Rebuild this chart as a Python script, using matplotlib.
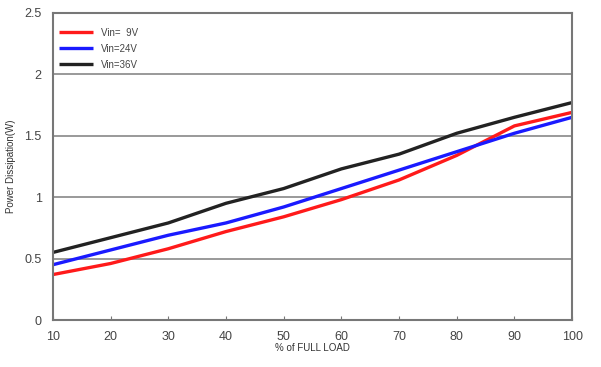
import matplotlib
matplotlib.use("Agg")
import matplotlib.pyplot as plt

load = [10, 20, 30, 40, 50, 60, 70, 80, 90, 100]
vin9 = [0.37, 0.46, 0.58, 0.72, 0.84, 0.98, 1.14, 1.34, 1.58, 1.69]
vin24 = [0.45, 0.57, 0.69, 0.79, 0.92, 1.07, 1.22, 1.37, 1.52, 1.65]
vin36 = [0.55, 0.67, 0.79, 0.95, 1.07, 1.23, 1.35, 1.52, 1.65, 1.77]
labels = ["Vin=  9V", "Vin=24V", "Vin=36V"]
colors = ["#ff1a1a", "#1a1aff", "#222222"]

plt.rcParams['font.family'] = ['Liberation Sans', 'DejaVu Sans']
fig = plt.figure(figsize=(6.01, 3.67), dpi=100)
ax = fig.add_axes([0.088, 0.128, 0.864, 0.837])

for ys, lab, c in zip([vin9, vin24, vin36], labels, colors):
    ax.plot(load, ys, color=c, lw=2.4, label=lab, solid_capstyle='butt')

ax.set_xlim(10, 100)
ax.set_ylim(0, 2.5)
ax.set_xticks(load)
ax.set_yticks([0, 0.5, 1, 1.5, 2, 2.5])
ax.set_yticklabels(["0", "0.5", "1", "1.5", "2", "2.5"])
ax.yaxis.grid(True, color="#888888", lw=1.2)
ax.set_axisbelow(True)
for s in ax.spines.values():
    s.set_color("#777777")
    s.set_linewidth(1.5)
ax.tick_params(axis='x', direction='in', length=3, color="#777777", labelsize=9, labelcolor="#444444", pad=8)
ax.tick_params(axis='y', length=0, labelsize=9, labelcolor="#444444", pad=8)
ax.set_xlabel("% of FULL LOAD", fontsize=7, color="#333333", labelpad=0)
ax.set_ylabel("Power Dissipation(W)", fontsize=7, color="#333333", labelpad=6)

leg = ax.legend(loc='upper left', bbox_to_anchor=(0.0, 0.97), frameon=True, fontsize=7,
                handlelength=3.5, labelspacing=0.6, borderaxespad=0.2)
leg.get_frame().set_edgecolor('none')
leg.get_frame().set_facecolor('white')
leg.get_frame().set_alpha(1)
for t in leg.get_texts():
    t.set_color("#444444")

fig.savefig("out.png", dpi=100)
